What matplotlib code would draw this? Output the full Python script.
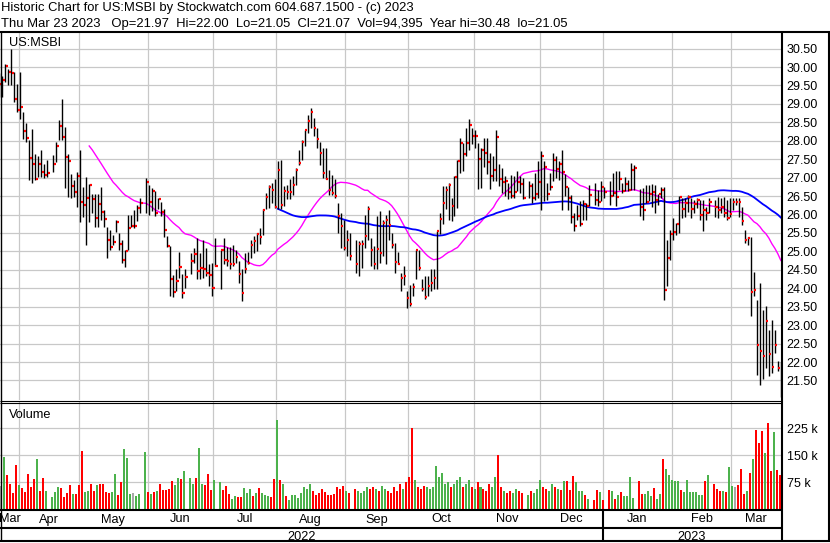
import numpy as np
import pandas as pd
import matplotlib
matplotlib.use('Agg')
import matplotlib.pyplot as plt
from matplotlib.lines import Line2D

plt.rcParams['font.family'] = ['Liberation Sans', 'DejaVu Sans']

TITLE = 'Historic Chart for US:MSBI by Stockwatch.com 604.687.1500 - (c) 2023'
SUBTITLE = ('Thu Mar 23 2023   Op=21.97  Hi=22.00  Lo=21.05  Cl=21.07  '
            'Vol=94,395  Year hi=30.48  lo=21.05')
SYMBOL = 'US:MSBI'

first_day, last_day = '2022-03-23', '2023-03-23'
holidays = ['2022-04-15', '2022-05-30', '2022-06-20', '2022-07-04', '2022-09-05',
            '2022-11-24', '2022-12-26', '2023-01-02', '2023-01-16', '2023-02-20']

# daily high / low / close, one value per trading day
high = [
    29.85, 29.77, 30.09, 29.95, 30.48, 29.86, 29.55, 29.86, 28.78, 28.47, 28.01, 28.33, 27.65, 27.60, 27.74, 27.38, 27.47,
    27.61, 27.97, 28.56, 29.14, 28.38, 27.65, 27.11, 26.93, 27.16, 27.74, 26.75, 27.02, 26.84, 26.57, 26.57, 26.57, 26.75,
    26.12, 25.67, 25.58, 25.44, 25.85, 25.49, 25.31, 25.04, 25.98, 25.98, 26.12, 26.27, 26.45,
    26.99, 26.81, 26.71, 26.63, 26.45, 26.33, 26.15, 25.41, 25.14, 24.35, 24.51, 24.99, 24.38, 24.51,
    24.96, 25.10, 25.37, 24.96, 25.32, 25.10, 24.66, 24.69, 25.37,
    25.05, 25.37, 25.13, 25.12, 25.16, 25.05, 24.74, 24.51, 24.96, 24.99, 25.30, 25.41, 25.50, 25.64, 26.15, 26.59, 26.81,
    26.86, 26.95, 27.44, 27.49, 26.77, 26.81, 26.95, 27.04, 27.26, 27.76,
    28.03, 28.30, 28.70, 28.88, 28.61, 28.34, 27.98, 27.80, 27.80, 27.22, 27.08, 26.95, 26.32, 26.05, 25.86, 25.59, 25.50,
    25.32, 25.28, 25.32, 26.00, 26.23, 25.37, 25.14, 25.95, 26.09, 25.86, 26.00, 26.11, 25.50, 25.23, 24.98, 24.42, 24.60,
    23.92, 24.10, 24.15, 25.05, 25.05, 24.24, 24.33, 24.33, 24.51, 24.51, 25.55, 26.05, 26.77, 26.77, 26.85, 26.45, 27.05,
    27.49, 28.08, 27.94, 28.35, 28.59, 28.35, 28.30, 27.94, 27.80, 28.08, 28.08, 27.67, 27.60, 28.30, 27.37, 27.26, 27.04,
    26.86, 27.08, 27.04, 27.17, 27.04, 26.99,
    26.90, 26.85, 27.12, 27.44, 27.71, 27.44, 26.85, 27.12, 27.67, 27.58, 27.44, 27.76, 27.10, 26.76, 26.54, 26.04, 26.27,
    26.36, 26.40, 26.31, 26.81,
    26.85, 26.67, 26.90, 26.76,
    26.90, 27.12, 27.17, 27.17, 26.85, 27.03, 26.94, 27.40, 27.35,
    26.70, 26.72, 26.81, 26.81, 26.84, 26.80, 26.57, 26.75, 26.75, 25.31, 25.58, 25.90, 25.76, 26.50, 26.44, 26.44, 26.52,
    26.44, 26.39, 26.44, 26.39, 26.39, 26.21, 26.44,
    26.39, 26.48, 26.44, 26.48, 26.39, 26.44, 26.44, 26.44, 26.44, 26.21, 25.58, 25.40, 25.40, 24.45, 23.69, 24.14, 23.42,
    23.51, 22.88, 23.15, 22.88, 22.02, 22.00,
]
low = [
    29.20, 29.19, 29.60, 29.50, 29.50, 29.05, 28.78, 28.60, 28.06, 27.97, 26.93, 26.86, 26.94, 27.02, 27.02, 26.98, 27.02,
    27.16, 27.43, 28.01, 28.01, 26.71, 26.48, 26.44, 26.48, 26.21, 25.80, 25.94, 25.17, 25.80, 26.03, 25.67, 25.67, 25.85,
    25.67, 24.81, 25.04, 25.17, 25.53, 25.04, 24.69, 24.58, 25.04, 25.67, 25.64, 25.82, 26.05,
    26.05, 26.00, 26.09, 25.97, 26.14, 25.95, 25.40, 25.12, 23.79, 23.77, 23.92, 24.29, 23.74, 24.01,
    24.38, 24.69, 24.24, 24.24, 24.29, 24.33, 24.06, 23.79, 24.60,
    23.99, 24.65, 24.60, 24.51, 24.60, 24.69, 24.15, 23.65, 24.42, 24.65, 24.83, 24.96, 25.01, 25.19, 25.45, 26.14, 26.18,
    26.32, 26.18, 26.14, 26.14, 26.23, 26.41, 26.41, 26.54, 26.81, 27.35,
    27.49, 27.85, 28.21, 28.34, 28.12, 27.80, 27.35, 26.99, 26.95, 26.54, 26.54, 26.45, 25.50, 25.10, 25.05, 24.87, 24.78,
    24.42, 24.33, 24.56, 25.10, 25.32, 24.60, 24.51, 24.51, 24.69, 24.87, 24.66, 25.32, 25.10, 24.42, 24.65, 23.92, 24.10,
    23.47, 23.52, 23.79, 24.24, 24.50, 23.92, 23.70, 23.79, 23.92, 23.97, 23.97, 25.46, 25.73, 26.14, 25.86, 25.82, 25.96,
    26.18, 27.13, 27.17, 27.58, 27.76, 27.90, 27.80, 26.68, 26.72, 27.30, 27.10, 26.68, 26.90, 26.90, 26.77, 26.59, 26.50,
    26.41, 26.45, 26.45, 26.63, 26.59, 26.41,
    26.44, 26.31, 26.40, 26.45, 26.13, 26.36, 26.40, 26.67, 26.90, 26.99, 26.94, 26.13, 26.50, 26.13, 25.77, 25.55, 25.86,
    25.70, 25.86, 25.86, 26.22,
    26.27, 26.22, 26.36, 26.45,
    26.27, 26.50, 26.22, 26.67, 26.58, 26.63, 26.63, 26.67, 26.67,
    25.95, 25.86, 26.31, 26.36, 26.21, 26.05, 26.26, 26.45, 23.69, 24.07, 24.77, 25.31, 25.45, 25.49, 25.90, 25.94, 26.08,
    25.90, 26.03, 26.17, 25.85, 25.54, 25.85, 26.03,
    25.94, 25.90, 26.03, 25.94, 25.85, 25.94, 26.12, 26.26, 25.94, 25.72, 25.22, 25.18, 23.24, 23.78, 21.66, 21.39, 21.53,
    21.84, 21.62, 21.71, 22.25, 21.75, 21.05,
]
close = [
    29.55, 29.64, 30.02, 29.86, 29.84, 29.12, 28.83, 28.92, 28.27, 28.08, 27.52, 27.37, 26.97, 27.37, 27.16, 27.08, 27.13,
    27.37, 27.85, 28.40, 28.10, 27.56, 27.45, 26.78, 26.62, 27.05, 26.34, 26.26, 26.45, 26.80, 26.43, 25.91, 26.28, 26.07,
    25.88, 25.32, 25.11, 25.26, 25.80, 25.19, 24.76, 25.02, 25.64, 25.70, 25.70, 26.17, 26.31,
    26.88, 26.34, 26.65, 26.03, 26.42, 26.06, 25.58, 25.14, 24.25, 23.90, 24.19, 24.57, 23.87, 24.30,
    24.73, 24.94, 24.48, 24.55, 24.53, 24.41, 24.36, 24.02, 24.61,
    25.03, 24.78, 24.73, 24.67, 24.67, 24.84, 24.39, 23.88, 24.52, 24.68, 25.16, 25.27, 25.47, 25.40, 26.12, 26.47, 26.76,
    26.66, 26.20, 27.20, 26.25, 26.64, 26.60, 26.61, 26.79, 27.22, 27.41,
    27.97, 28.29, 28.54, 28.79, 28.34, 28.05, 27.67, 27.13, 26.97, 26.67, 26.59, 26.50, 25.95, 25.68, 25.08, 25.31, 24.87,
    24.66, 25.19, 25.20, 25.41, 26.15, 25.04, 24.66, 25.06, 24.95, 25.77, 25.85, 25.71, 25.17, 24.71, 24.67, 24.28, 24.34,
    23.73, 23.58, 24.03, 25.03, 24.55, 23.97, 23.75, 24.07, 24.14, 24.28, 25.54, 25.87, 26.30, 26.66, 26.79, 26.23, 27.01,
    27.44, 27.93, 27.65, 27.95, 28.42, 28.12, 28.13, 27.51, 27.74, 27.68, 27.43, 27.04, 27.20, 28.09, 26.97, 26.88, 26.90,
    26.60, 26.50, 26.61, 26.88, 26.82, 26.45,
    26.78, 26.44, 26.57, 26.89, 27.58, 27.28, 26.57, 26.74, 27.49, 27.24, 27.38, 27.16, 26.75, 26.44, 25.94, 25.68, 25.97,
    25.75, 26.28, 26.22, 26.52,
    26.40, 26.35, 26.76, 26.60,
    26.51, 26.58, 26.47, 26.97, 26.65, 26.84, 26.67, 27.21, 27.27,
    26.20, 26.11, 26.35, 26.55, 26.61, 26.40, 26.55, 26.67, 23.96, 24.81, 25.46, 25.52, 25.73, 26.48, 26.16, 26.31, 26.48,
    26.16, 26.28, 26.39, 25.99, 26.12, 26.05, 26.34,
    26.21, 26.12, 26.21, 26.05, 25.90, 26.01, 26.34, 26.34, 26.34, 25.83, 25.31, 25.36, 23.91, 23.95, 22.45, 22.29, 22.15,
    23.10, 22.21, 21.86, 22.45, 21.83, 21.07,
]
# volume in thousands of shares
volume = [
    60, 64, 145, 95, 71, 45, 124, 66, 58, 48, 98, 61, 85, 138, 50, 87, 50,
    34, 48, 61, 58, 33, 44, 66, 42, 42, 66, 162, 48, 50, 71, 50, 66, 71, 69, 48, 45, 48, 98, 40, 74, 167, 143, 42, 45, 37, 42,
    159, 48, 42, 48, 50, 69, 53, 53, 56, 77, 66, 87, 85, 106,
    87, 69, 87, 169, 71, 66, 98, 53, 82,
    74, 53, 64, 42, 29, 37, 34, 34, 58, 45, 56, 37, 45, 58, 45, 40, 37, 34, 85, 249, 82, 71, 37, 26, 40, 40, 32,
    45, 60, 55, 70, 50, 40, 45, 55, 48, 40, 38, 42, 60, 55, 65, 50, 45,
    55, 50, 45, 50, 60, 55, 60, 55, 50, 65, 55, 50, 45, 60, 50, 70, 55, 75, 90, 225, 80, 60, 55, 65, 60, 55, 60, 120, 90,
    100, 70, 75, 60, 70, 80, 90, 60, 70, 80, 60, 55, 75, 60, 55, 50, 70, 60, 90, 150, 60, 50, 45, 50, 45, 55, 50, 45,
    40, 50, 45, 55, 80, 60, 55, 50, 70, 60, 55, 53, 77, 77, 53, 93, 74, 50, 50, 40, 29,
    24, 53, 48, 26,
    53, 50, 29, 40, 48, 37, 37, 90, 32,
    77, 42, 42, 50, 37, 58, 29, 42, 140, 111, 95, 82, 79, 77, 53, 48, 82, 48, 48, 48, 40, 40, 77, 95,
    69, 56, 50, 50, 48, 117, 64, 61, 66, 111, 42, 50, 101, 138, 219, 183, 217, 156, 241, 106, 214, 109, 94,
]
# volume bar colour class per day: u = up (green), d = down (red), n = unchanged (grey)
vol_dir = ('nnudddduddddduddu'
           'uuuddddudd' 'duuddudddd' 'uudduuunuu'
           'udududdddduudu'
           'uuduudddu'
           'uddduudduuududuuuddududuuuu'
           'uuuudddddddddddud'
           'duuuuddudu' 'uddddduddd' 'uddduuuuuu' 'uuduuuduud' 'ududdduudd' 'udduudd'
           'uduuudduudu' 'duddduuudu'
           'ddud'
           'dududuuuu'
           'dduuuduuduuuuuduuuuuuudu'
           'ddduduundddududdduddudd')

month_labels = ['Mar', 'Apr', 'May', 'Jun', 'Jul', 'Aug', 'Sep', 'Oct', 'Nov', 'Dec', 'Jan', 'Feb', 'Mar']
year_labels = ['2022', '2023']
price_ticks = np.arange(21.5, 30.51, 0.5)
vol_ticks = [75, 150, 225]

n = len(close)
assert len(high) == n and len(low) == n and len(volume) == n and len(vol_dir) == n, (
    len(high), len(low), len(close), len(volume), len(vol_dir))

# x position = weekday slot (holidays keep an empty slot)
weekdays = pd.bdate_range(first_day, last_day)
trade_days = weekdays[~weekdays.isin(pd.to_datetime(holidays))]
x = weekdays.get_indexer(trade_days).astype(float)

closes = pd.Series(close)
ma30 = closes.rolling(30).mean()
ma90 = closes.rolling(90).mean()

W, H = 830, 543
GRID = '#c8c8c8'
XLIM = (0.2, 261.05)


def box(l, t, r, b):
    return [l / W, 1 - b / H, (r - l) / W, (b - t) / H]


def fline(x0, y0, x1, y1, lw=1.0):
    fig.add_artist(Line2D([x0 / W, x1 / W], [1 - y0 / H, 1 - y1 / H],
                          transform=fig.transFigure, color='black', lw=lw,
                          solid_capstyle='butt'))


fig = plt.figure(figsize=(W / 100, H / 100), dpi=100)
fig.patch.set_facecolor('white')

ax = fig.add_axes(box(0, 32, 781, 400))
axv = fig.add_axes(box(0, 402, 781, 510))
axd = fig.add_axes(box(0, 510, 781, 541))

# month boundaries: a month that opens on a weekend is split at its preceding Friday
month_starts = pd.date_range('2022-04-01', '2023-03-01', freq='MS')
bounds = [weekdays.searchsorted(m) - 0.5 - (1 if m.weekday() >= 5 else 0) for m in month_starts]

for a in (ax, axv, axd):
    a.set_xlim(*XLIM)
    for s in a.spines.values():
        s.set_visible(False)
    a.set_xticks([])

for a in (ax, axv):
    for b in bounds:
        a.axvline(b, color=GRID, lw=0.9, zorder=0)
    a.yaxis.tick_right()
    a.tick_params(axis='y', length=0, pad=4, labelsize=9)
    a.yaxis.grid(True, color=GRID, lw=0.9)
    a.set_axisbelow(True)

# price panel
ax.set_ylim(20.97, 30.95)
ax.set_yticks(price_ticks)
ax.set_yticklabels([f'{v:.2f}' for v in price_ticks])
ax.vlines(x, low, high, color='black', lw=1.0, zorder=3)
ax.hlines(close, x + 0.15, x + 0.85, color='#ff0000', lw=1.6, zorder=4)
ax.plot(x, ma30, color='#ff00ff', lw=1.0, zorder=2)
ax.plot(x, ma90, color='#0000ff', lw=1.3, zorder=2)
ax.text(0.0115, 0.961, SYMBOL, transform=ax.transAxes, fontsize=9.2,
        va='baseline', ha='left')

# volume panel
colors = {'u': '#4cb24c', 'd': '#ff0000', 'n': '#a8a8a8'}
axv.set_ylim(-2.8, 298.3)
axv.set_yticks(vol_ticks)
axv.set_yticklabels([f'{v} k' for v in vol_ticks])
axv.bar(x - 0.65, volume, width=0.67, align='edge',
        color=[colors[c] for c in vol_dir], zorder=3)
axv.text(0.0115, 0.855, 'Volume', transform=axv.transAxes, fontsize=9.2,
         va='baseline', ha='left')

# month / year strip
axd.set_ylim(0, 1)
axd.set_yticks([])
edges = [XLIM[0]] + bounds + [XLIM[1]]
for lab, a0, a1 in zip(month_labels, edges[:-1], edges[1:]):
    axd.text((a0 + a1) / 2, (541 - 522.5) / 31, lab, ha='center', va='baseline', fontsize=9.2)
jan = bounds[9]
for lab, a0, a1 in zip(year_labels, [XLIM[0], jan], [jan, XLIM[1]]):
    axd.text((a0 + a1) / 2, (541 - 539.5) / 31, lab, ha='center', va='baseline', fontsize=9.2)

# header
fig.text(1 / W, 1 - 11 / H, TITLE, fontsize=9.4, va='baseline', ha='left')
fig.text(1 / W, 1 - 27.3 / H, SUBTITLE, fontsize=9.4, va='baseline', ha='left')

# frame lines
jan_px = (jan - XLIM[0]) / (XLIM[1] - XLIM[0]) * 781
fline(0, 31.5, 830, 31.5, 1.5)
fline(0.5, 31, 0.5, 541, 1.0)
fline(829, 31, 829, 541, 1.5)
fline(0, 540.5, 830, 540.5, 1.5)
fline(782, 31, 782, 541, 1.5)
fline(0, 400.5, 782, 400.5, 0.8)
fline(0, 402.5, 782, 402.5, 0.8)
fline(0, 510, 782, 510, 1.5)
fline(0, 527.5, 782, 527.5, 1.5)
fline(jan_px, 510, jan_px, 541, 1.5)

fig.savefig('out.png', dpi=100, facecolor='white')
